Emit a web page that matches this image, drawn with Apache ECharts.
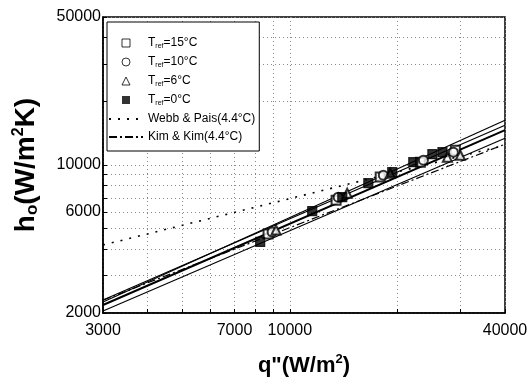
<!DOCTYPE html>
<html>
<head>
<meta charset="utf-8">
<script src="https://cdn.jsdelivr.net/npm/echarts@6/dist/echarts.min.js"></script>
<style>
  html, body { margin: 0; padding: 0; background: #fff; }
  #main { width: 531px; height: 389px; }
</style>
</head>
<body>
<div id="main"></div>
<script>
// ---- data ----
var xTicks = [3000, 4000, 5000, 6000, 7000, 8000, 9000, 10000, 20000, 30000, 40000];
var xLabels = [3000, 7000, 10000, 40000];
var yTicks = [2000, 3000, 4000, 5000, 6000, 7000, 8000, 9000, 10000, 20000, 30000, 40000, 50000];
var yLabels = [2000, 6000, 10000, 50000];

// fitted lines, two ends each
var fitQ = [3000, 40000];
var fit15 = [2254, 16260];
var fit10 = [2304, 15400];
var fit6 = [2182, 14600];
var fit0 = [2044, 13370];
var webbPais = [4190, 12400];
var kimKim = [2300, 12540];

// measured points
var q15 = [8690, 13470, 17900, 23190, 29050];
var h15 = [4720, 6820, 8770, 10310, 11740];
var q10 = [8920, 13650, 18260, 23640, 28680];
var h10 = [4820, 7050, 8950, 10540, 11500];
var q6 = [9150, 14470, 19100, 27590, 30000];
var h6 = [4930, 7360, 9140, 10890, 11120];
var q0 = [8260, 11550, 14020, 16580, 19340, 22150, 25050, 26730];
var h0 = [4330, 6060, 7050, 8210, 9250, 10310, 11250, 11500];

function pairs(xs, ys) {
  return xs.map(function (x, i) { return [x, ys[i]]; });
}

(function () {
  var myChart = echarts.init(document.getElementById('main'));
  var font = 'Liberation Sans, Arial, sans-serif';

  var sq = 'path://M0,0H10V10H0Z';
  var circ = 'path://M5,0A5,5,0,1,1,5,10A5,5,0,1,1,5,0Z';
  var tri = 'path://M5,0L10,10H0Z';
  var hollow = { color: '#fff', borderColor: '#000', borderWidth: 1 };

  var legendData = [
    { name: 'Tref=15°C', icon: sq, itemStyle: hollow },
    { name: 'Tref=10°C', icon: circ, itemStyle: hollow },
    { name: 'Tref=6°C', icon: tri, itemStyle: hollow },
    { name: 'Tref=0°C', icon: sq, itemStyle: { color: '#000', borderWidth: 0 } },
    { name: 'Webb & Pais(4.4°C)', itemStyle: { opacity: 0 } },
    { name: 'Kim & Kim(4.4°C)', itemStyle: { opacity: 0 } }
  ];
  var legendText = {
    'Tref=15°C': '{t|T}{s|ref}{t|=15°C}',
    'Tref=10°C': '{t|T}{s|ref}{t|=10°C}',
    'Tref=6°C': '{t|T}{s|ref}{t|=6°C}',
    'Tref=0°C': '{t|T}{s|ref}{t|=0°C}',
    'Webb & Pais(4.4°C)': '{t|Webb & Pais(4.4°C)}',
    'Kim & Kim(4.4°C)': '{t|Kim & Kim(4.4°C)}'
  };

  function fitLine(data, width) {
    return {
      type: 'line', data: pairs(fitQ, data), symbol: 'none', silent: true,
      lineStyle: { color: '#000', width: width }, z: 2
    };
  }

  function points(name, xs, ys, symbol) {
    return {
      name: name, type: 'scatter', data: pairs(xs, ys), symbol: symbol, symbolSize: 9,
      itemStyle: { color: '#000', borderColor: '#000', borderWidth: 1.2 }, z: 5
    };
  }

  var option = {
    animation: false,
    backgroundColor: '#fff',
    grid: {
      left: 103, right: 26, top: 17, bottom: 76,
      show: true, borderColor: '#000', borderWidth: 1.5, backgroundColor: 'transparent'
    },
    legend: {
      orient: 'vertical', left: 107, top: 22,
      itemWidth: 34, itemHeight: 8, itemGap: 6,
      padding: [15, 4, 8, 1],
      borderColor: '#000', borderWidth: 1, backgroundColor: '#fff',
      selectedMode: false,
      data: legendData,
      formatter: function (name) { return legendText[name]; },
      textStyle: {
        color: '#000', fontFamily: font, fontSize: 12,
        rich: {
          t: { fontSize: 12, lineHeight: 14, fontFamily: font, color: '#000' },
          s: { fontSize: 7, lineHeight: 7, verticalAlign: 'bottom', fontFamily: font, color: '#000' }
        }
      }
    },
    xAxis: {
      type: 'log', min: 3000, max: 40000,
      name: '{a|q"(W/m}{b|2}{a|)}', nameLocation: 'middle', nameGap: 40,
      nameTextStyle: {
        rich: {
          a: { fontSize: 22, fontWeight: 'bold', fontFamily: font, color: '#000', lineHeight: 26 },
          b: { fontSize: 13, fontWeight: 'bold', fontFamily: font, color: '#000', lineHeight: 13, verticalAlign: 'top' }
        }
      },
      axisLine: { lineStyle: { color: '#000', width: 1.5 } },
      axisTick: { inside: true, length: 4, customValues: xTicks, lineStyle: { color: '#000' } },
      axisLabel: {
        customValues: xLabels, margin: 10, color: '#000', fontSize: 16, fontFamily: font,
        formatter: function (v) { return String(v); }
      },
      splitLine: { show: true, lineStyle: { color: '#888', type: [1, 3], width: 1 } }
    },
    yAxis: {
      type: 'log', min: 2000, max: 50000,
      name: '{a|h}{c|o}{a|(W/m}{b|2}{a|K)}', nameLocation: 'middle', nameGap: 62, nameRotate: 90,
      nameTextStyle: {
        rich: {
          a: { fontSize: 28, fontWeight: 'bold', fontFamily: font, color: '#000', lineHeight: 30 },
          b: { fontSize: 16, fontWeight: 'bold', fontFamily: font, color: '#000', lineHeight: 15, verticalAlign: 'top' },
          c: { fontSize: 17, fontWeight: 'bold', fontFamily: font, color: '#000', lineHeight: 14, verticalAlign: 'bottom' }
        }
      },
      axisLine: { lineStyle: { color: '#000', width: 1.5 } },
      axisTick: { inside: true, length: 4, customValues: yTicks, lineStyle: { color: '#000' } },
      axisLabel: {
        customValues: yLabels, margin: 2, color: '#000', fontSize: 16, fontFamily: font,
        formatter: function (v) { return String(v); }
      },
      splitLine: { show: true, lineStyle: { color: '#888', type: [1, 3], width: 1 } }
    },
    series: [
      fitLine(fit15, 1.2),
      fitLine(fit10, 1.2),
      fitLine(fit6, 2),
      fitLine(fit0, 1.2),
      {
        name: 'Webb & Pais(4.4°C)', type: 'line', data: pairs(fitQ, webbPais), symbol: 'none',
        lineStyle: { color: '#000', width: 1.6, type: [2, 7] }, itemStyle: { color: '#000' }, z: 3
      },
      {
        name: 'Kim & Kim(4.4°C)', type: 'line', data: pairs(fitQ, kimKim), symbol: 'none',
        lineStyle: { color: '#000', width: 1.2, type: [8, 3, 2, 3] }, itemStyle: { color: '#000' }, z: 3
      },
      points('Tref=15°C', q15, h15, 'emptyRect'),
      points('Tref=10°C', q10, h10, 'emptyCircle'),
      points('Tref=6°C', q6, h6, 'emptyTriangle'),
      points('Tref=0°C', q0, h0, 'rect')
    ]
  };

  myChart.setOption(option);
  window.addEventListener('resize', function () {
    myChart.resize();
  });
})();
</script>
</body>
</html>
